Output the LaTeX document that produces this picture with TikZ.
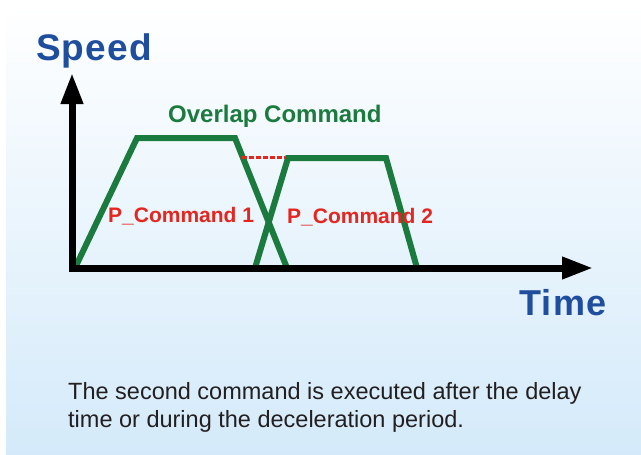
\documentclass[tikz,border=0pt]{standalone}
\usepackage{fontspec}
\setmainfont{Liberation Sans}
\usepackage{tikz}
\usetikzlibrary{arrows.meta}
\definecolor{bgblue}{RGB}{212,234,250}
\definecolor{axisblue}{RGB}{31,78,158}
\definecolor{cmdgreen}{RGB}{27,122,61}
\definecolor{cmdred}{RGB}{229,38,31}
\definecolor{captext}{RGB}{35,31,32}
\tikzset{
	axis/.style={line width=7pt, color=black, line join=miter,
		{Triangle[length=31pt,width=21pt]}-{Triangle[length=31pt,width=21pt]}},
	profile/.style={line width=6pt, color=cmdgreen, line join=miter},
	axislabel/.style={anchor=base west, inner sep=0pt, text=axisblue,
		font=\fontsize{36}{40}\selectfont\bfseries\addfontfeatures{LetterSpace=4}},
	cmdlabel/.style={anchor=base west, inner sep=0pt, text=cmdred,
		font=\fontsize{21}{24}\selectfont\bfseries}
}

\begin{document}
\begin{tikzpicture}[x=1pt, y=-1pt]
		%%%%% START %%%%%
		\useasboundingbox (0, 0) rectangle (641, 455);
		\shade[top color=white, bottom color=bgblue] (6, 4) rectangle (641, 455);
		
		% first command
		\draw[profile] (75, 268) -- (137, 138) -- (235, 138) -- (287, 268);
		
		% second command
		\draw[profile] (255, 268) -- (288, 158) -- (386, 158) -- (417, 268);
		
		\draw[line width=2.5pt, color=cmdred, dash pattern=on 4.5pt off 2.5pt] (242, 157.5) -- (285, 157.5);
		
		% axes
		\draw[axis] (72, 73) -- (72, 268) -- (593, 268);
		
		\node[axislabel, font=\fontsize{37}{40}\selectfont\bfseries\addfontfeatures{LetterSpace=3}] (speed) at (36, 60) {Speed};
		\node[axislabel] (time) at (519, 315) {Time};
		
		\node[anchor=base west, inner sep=0pt, text=cmdgreen, font=\fontsize{24}{27}\selectfont\bfseries] (overlap) at (168, 122) {Overlap Command};
		\node[cmdlabel] (cmdone) at (108, 222) {P\_Command 1};
		\node[cmdlabel] (cmdtwo) at (287, 223) {P\_Command 2};
		
		\node[anchor=north west, inner sep=0pt, align=left, text=captext, font=\fontsize{23.5}{28}\selectfont] (caption) at (68, 382)
			{The second command is executed after the delay\\time or during the deceleration period.};
		%%%%% END %%%%%
	\end{tikzpicture}
\end{document}
